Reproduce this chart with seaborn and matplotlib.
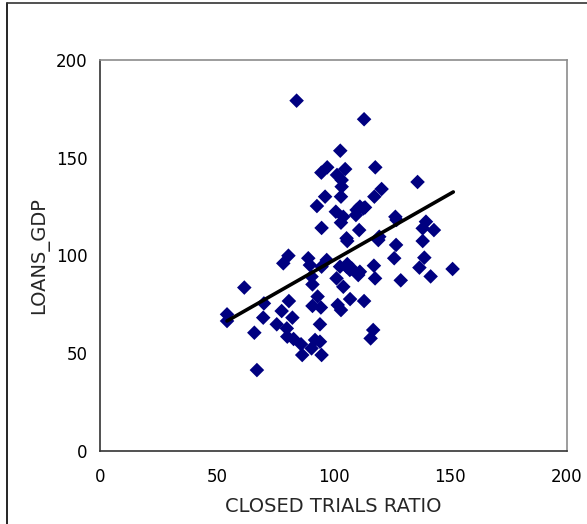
import numpy as np
import pandas as pd
import matplotlib
matplotlib.use("Agg")
import matplotlib.pyplot as plt
from matplotlib.lines import Line2D
import seaborn as sns

# closed trials ratio (x) vs loans/GDP (y)
closed_trials = [84.2, 113.1, 102.9, 94.8, 97.3, 101.5, 103.5, 103.5, 105.0, 117.9,
                 136.0, 120.6, 117.5, 96.4, 92.9, 103.2, 111.3, 113.5, 109.6, 104.2,
                 126.5, 127.0, 139.6, 138.2, 143.0, 111.0, 119.6, 105.6, 94.9, 103.2,
                 101.0, 80.7, 78.5, 89.2, 89.9, 97.1, 94.9, 102.8, 101.3, 104.2,
                 90.6, 91.0, 61.8, 54.4, 54.4, 70.2, 80.9, 77.8, 69.9, 82.4,
                 66.1, 75.7, 80.0, 80.2, 82.9, 86.1, 86.6, 92.1, 94.2, 90.6,
                 94.9, 93.2, 91.0, 94.6, 94.2, 101.8, 103.2, 67.2, 105.9, 119.2,
                 126.8, 138.2, 126.0, 138.9, 136.8, 151.0, 141.6, 128.8, 117.3, 117.8,
                 105.6, 111.3, 110.6, 107.8, 107.1, 113.1, 117.0, 115.9, 109.9, 112.8,
                 105.9, 107.0]
loans_gdp = [179.2, 169.7, 153.6, 142.4, 145.1, 141.2, 138.6, 135.2, 144.2, 145.1,
             137.6, 134.0, 130.1, 130.1, 125.3, 130.1, 125.0, 124.6, 120.7, 119.8,
             119.8, 118.2, 117.3, 113.9, 113.0, 113.0, 109.6, 108.8, 114.1, 116.8,
             122.4, 99.9, 96.0, 98.6, 95.1, 97.7, 94.3, 94.3, 88.3, 84.0,
             89.2, 85.2, 83.6, 69.9, 66.5, 75.5, 76.7, 71.6, 68.2, 68.2,
             60.5, 64.8, 62.7, 58.5, 57.3, 54.6, 49.1, 56.8, 55.9, 52.5,
             49.1, 79.0, 74.2, 73.4, 64.8, 74.7, 72.1, 41.4, 107.4, 107.9,
             105.4, 107.4, 98.6, 98.9, 93.8, 93.1, 89.3, 87.3, 94.8, 88.3,
             94.3, 91.7, 90.0, 93.4, 77.7, 76.7, 61.9, 57.6, 123.3, 124.1,
             95.6, 92.6]

# linear trend line as drawn in the picture (end points)
trend_x = [54.4, 151.3]
trend_y = [66.5, 132.5]

x_ticks = [0, 50, 100, 150, 200]
y_ticks = [0, 50, 100, 150, 200]

df = pd.DataFrame({"CLOSED TRIALS RATIO": closed_trials, "LOANS_GDP": loans_gdp})
trend = pd.DataFrame({"x": trend_x, "y": trend_y})

sns.set_style("white")
plt.rcParams['font.family'] = ['DejaVu Sans']

fig = plt.figure(figsize=(5.87, 5.24), dpi=100)
ax = fig.add_axes([100/587, 1 - 451/524, 467/587, 391/524])

sns.scatterplot(data=df, x="CLOSED TRIALS RATIO", y="LOANS_GDP", ax=ax,
                marker="D", s=55, color="#000080", edgecolor="none", zorder=2)
sns.lineplot(data=trend, x="x", y="y", ax=ax, color="black", linewidth=2.6, zorder=3)

ax.set_xlim(0, 200)
ax.set_ylim(0, 200)
ax.set_xticks(x_ticks)
ax.set_yticks(y_ticks)
ax.tick_params(length=0, labelsize=12, colors="black")
ax.tick_params(axis="x", pad=12)
ax.tick_params(axis="y", pad=9)
ax.set_xlabel("CLOSED TRIALS RATIO", fontsize=14, labelpad=8)
ax.set_ylabel("LOANS_GDP", fontsize=14, labelpad=5)

for side in ["left", "bottom"]:
    ax.spines[side].set_color("#333333")
    ax.spines[side].set_linewidth(1.2)
for side in ["top", "right"]:
    ax.spines[side].set_color("#8c8c8c")
    ax.spines[side].set_linewidth(1.2)

# outer chart frame (cut off at right and bottom)
fig.add_artist(Line2D([7/587, 7/587], [0, 1 - 3/524], color="black", linewidth=1.2))
fig.add_artist(Line2D([7/587, 1], [1 - 3/524, 1 - 3/524], color="#333333", linewidth=1.2))

fig.savefig("out.png", dpi=100)
